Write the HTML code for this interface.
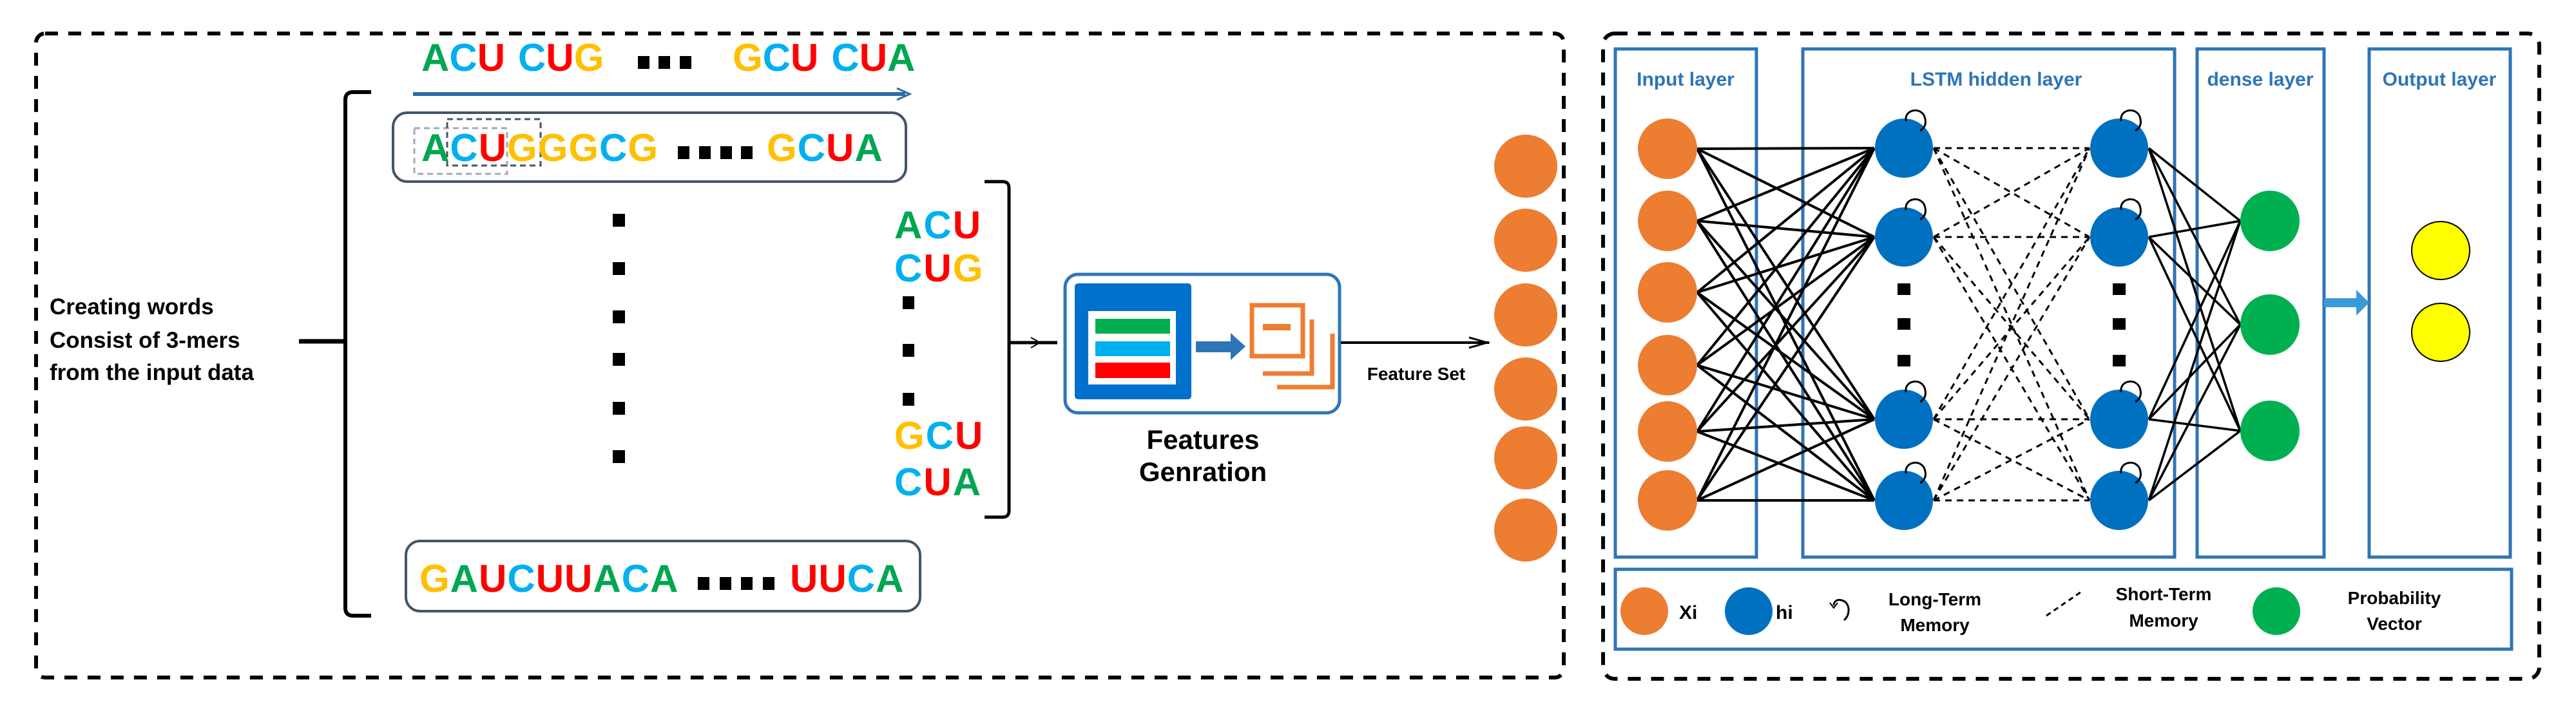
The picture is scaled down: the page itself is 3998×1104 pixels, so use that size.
<!DOCTYPE html>
<html><head><meta charset="utf-8"><style>
html,body{margin:0;padding:0;background:#fff;}
svg{display:block;}
text{font-family:"Liberation Sans",Arial,sans-serif;font-weight:bold;}
</style></head><body>
<svg width="3998" height="1104" viewBox="0 0 3998 1104" xmlns="http://www.w3.org/2000/svg">
<defs>
<marker id="ah" markerWidth="10" markerHeight="10" refX="9" refY="5" orient="auto" markerUnits="userSpaceOnUse"><path d="M0,0 L10,5 L0,10" fill="none" stroke="#000" stroke-width="2"/></marker>
</defs>
<!-- panels -->
<rect x="56" y="52" width="2371" height="1000" rx="14" fill="none" stroke="#000" stroke-width="6" stroke-dasharray="20,16"/>
<rect x="2488" y="52" width="1453" height="1002" rx="18" fill="none" stroke="#000" stroke-width="6" stroke-dasharray="20,16"/>

<!-- top sequence -->
<g font-size="60">
<text x="654" y="110"><tspan fill="#00a651">A</tspan><tspan fill="#00b0f0">C</tspan><tspan fill="#ff0000">U</tspan><tspan dx="20" fill="#00b0f0">C</tspan><tspan fill="#ff0000">U</tspan><tspan fill="#ffc000">G</tspan></text>
<text x="1137" y="110"><tspan fill="#ffc000">G</tspan><tspan fill="#00b0f0">C</tspan><tspan fill="#ff0000">U</tspan><tspan dx="20" fill="#00b0f0">C</tspan><tspan fill="#ff0000">U</tspan><tspan fill="#00a651">A</tspan></text>
</g>
<g fill="#000"><rect x="990" y="87" width="18" height="20"/><rect x="1022" y="87" width="18" height="20"/><rect x="1055" y="87" width="18" height="20"/></g>
<line x1="641" y1="146" x2="1405" y2="146" stroke="#2e6da4" stroke-width="6"/>
<path d="M1392,137 L1412,146 L1392,155" fill="none" stroke="#2e6da4" stroke-width="3"/>

<!-- bracket -->
<path d="M576,143 L548,143 Q536,143 536,155 L536,944 Q536,956 548,956 L576,956" fill="none" stroke="#000" stroke-width="6"/>
<line x1="464" y1="530" x2="536" y2="530" stroke="#000" stroke-width="7"/>
<text x="77" y="488" font-size="35" fill="#000">Creating words</text>
<text x="77" y="540" font-size="35" fill="#000">Consist of 3-mers</text>
<text x="77" y="590" font-size="35" fill="#000">from the input data</text>

<!-- box 1 -->
<rect x="610" y="175" width="796" height="107" rx="22" fill="none" stroke="#44546a" stroke-width="4"/>
<rect x="643" y="199" width="144" height="71" fill="none" stroke="#a0a8b8" stroke-width="3" stroke-dasharray="9,6"/>
<rect x="694" y="185" width="145" height="72" fill="none" stroke="#44546a" stroke-width="3" stroke-dasharray="9,6"/>
<text x="654" y="250" font-size="60" letter-spacing="1"><tspan fill="#00a651">A</tspan><tspan fill="#00b0f0">C</tspan><tspan fill="#ff0000">U</tspan><tspan fill="#ffc000">GGG</tspan><tspan fill="#00b0f0">C</tspan><tspan fill="#ffc000">G</tspan></text>
<g fill="#000"><rect x="1052" y="227" width="18" height="20"/><rect x="1085" y="227" width="18" height="20"/><rect x="1118" y="227" width="18" height="20"/><rect x="1150" y="227" width="18" height="20"/></g>
<text x="1190" y="250" font-size="60" letter-spacing="1"><tspan fill="#ffc000">G</tspan><tspan fill="#00b0f0">C</tspan><tspan fill="#ff0000">U</tspan><tspan fill="#00a651">A</tspan></text>

<!-- vertical dots -->
<g fill="#000"><rect x="951" y="332" width="19" height="20"/><rect x="951" y="407" width="19" height="20"/><rect x="951" y="482" width="19" height="20"/><rect x="951" y="548" width="19" height="20"/><rect x="951" y="624" width="19" height="20"/><rect x="951" y="699" width="19" height="20"/></g>

<!-- box 2 -->
<rect x="630" y="840" width="798" height="109" rx="22" fill="none" stroke="#44546a" stroke-width="4"/>
<text x="651" y="919" font-size="60" letter-spacing="1"><tspan fill="#ffc000">G</tspan><tspan fill="#00a651">A</tspan><tspan fill="#ff0000">U</tspan><tspan fill="#00b0f0">C</tspan><tspan fill="#ff0000">UU</tspan><tspan fill="#00a651">A</tspan><tspan fill="#00b0f0">C</tspan><tspan fill="#00a651">A</tspan></text>
<g fill="#000"><rect x="1083" y="896" width="18" height="20"/><rect x="1117" y="896" width="18" height="20"/><rect x="1150" y="896" width="18" height="20"/><rect x="1184" y="896" width="18" height="20"/></g>
<text x="1226" y="919" font-size="60" letter-spacing="1"><tspan fill="#ff0000">UU</tspan><tspan fill="#00b0f0">C</tspan><tspan fill="#00a651">A</tspan></text>

<!-- kmers column -->
<g font-size="60" letter-spacing="2">
<text x="1388" y="370"><tspan fill="#00a651">A</tspan><tspan fill="#00b0f0">C</tspan><tspan fill="#ff0000">U</tspan></text>
<text x="1388" y="437"><tspan fill="#00b0f0">C</tspan><tspan fill="#ff0000">U</tspan><tspan fill="#ffc000">G</tspan></text>
<text x="1388" y="697"><tspan fill="#ffc000">G</tspan><tspan fill="#00b0f0">C</tspan><tspan fill="#ff0000">U</tspan></text>
<text x="1388" y="769"><tspan fill="#00b0f0">C</tspan><tspan fill="#ff0000">U</tspan><tspan fill="#00a651">A</tspan></text>
</g>
<g fill="#000"><rect x="1401" y="460" width="18" height="20"/><rect x="1401" y="534" width="18" height="20"/><rect x="1401" y="610" width="18" height="20"/></g>
<path d="M1528,282 L1556,282 Q1566,282 1566,292 L1566,793 Q1566,803 1556,803 L1528,803" fill="none" stroke="#000" stroke-width="5"/>
<line x1="1566" y1="532" x2="1641" y2="532" stroke="#000" stroke-width="5"/>
<path d="M1600,524 L1614,532 L1600,540" fill="none" stroke="#000" stroke-width="2"/>

<!-- features box -->
<rect x="1653" y="426" width="426" height="215" rx="20" fill="none" stroke="#2e75b6" stroke-width="5"/>
<rect x="1668" y="440" width="181" height="180" rx="5" fill="#0070cd"/>
<rect x="1689" y="483" width="136" height="114" fill="#fff"/>
<rect x="1700" y="495" width="116" height="23" fill="#00b050"/>
<rect x="1700" y="530" width="116" height="23" fill="#00b0f0"/>
<rect x="1700" y="563" width="116" height="24" fill="#ff0000"/>
<rect x="1856" y="530" width="56" height="17" fill="#2e75b6"/>
<path d="M1910,517 L1933,538 L1910,559 Z" fill="#2e75b6"/>
<g fill="none" stroke="#ed7d31" stroke-width="7">
<rect x="1943" y="474" width="79" height="79"/>
<path d="M2036,496 L2036,580 L1960,580"/>
<path d="M2068,518 L2068,601 L1982,601"/>
</g>
<rect x="1960" y="503" width="43" height="10" fill="#ed7d31"/>
<text x="1867" y="697" font-size="42" text-anchor="middle" fill="#000">Features</text>
<text x="1867" y="747" font-size="42" text-anchor="middle" fill="#000">Genration</text>
<line x1="2081" y1="532" x2="2311" y2="532" stroke="#000" stroke-width="4"/>
<path d="M2280,524 L2308,532 L2280,540" fill="none" stroke="#000" stroke-width="3"/>
<text x="2198" y="590" font-size="28" text-anchor="middle" fill="#000">Feature Set</text>
<g fill="#ed7d31">
<circle cx="2368" cy="258" r="49"/><circle cx="2368" cy="373" r="49"/><circle cx="2368" cy="489" r="49"/><circle cx="2368" cy="604" r="49"/><circle cx="2368" cy="711" r="49"/><circle cx="2368" cy="823" r="49"/>
</g>

<!-- right panel layers -->
<g fill="none" stroke="#2e75b6" stroke-width="5">
<rect x="2507" y="76" width="219" height="789"/>
<rect x="2798" y="76" width="577" height="789"/>
<rect x="3410" y="76" width="197" height="789"/>
<rect x="3677" y="76" width="219" height="789"/>
<rect x="2507" y="884" width="1391" height="124"/>
</g>
<g font-size="30" fill="#2e75b6" text-anchor="middle">
<text x="2616" y="133">Input layer</text>
<text x="3098" y="133">LSTM hidden layer</text>
<text x="3508" y="133">dense layer</text>
<text x="3786" y="133">Output layer</text>
</g>

<!-- connections input -> lstm1 -->
<g stroke="#000" stroke-width="4">
<path d="M2634,231L2909,230M2634,231L2909,368M2634,231L2909,651M2634,231L2909,777
M2634,343L2909,230M2634,343L2909,368M2634,343L2909,651M2634,343L2909,777
M2634,454L2909,230M2634,454L2909,368M2634,454L2909,651M2634,454L2909,777
M2634,567L2909,230M2634,567L2909,368M2634,567L2909,651M2634,567L2909,777
M2634,670L2909,230M2634,670L2909,368M2634,670L2909,651M2634,670L2909,777
M2634,777L2909,230M2634,777L2909,368M2634,777L2909,651M2634,777L2909,777"/>
</g>
<g stroke="#000" stroke-width="3" stroke-dasharray="10,8">
<path d="M3001,230L3243,230M3001,230L3243,368M3001,230L3243,651M3001,230L3243,777
M3001,368L3243,230M3001,368L3243,368M3001,368L3243,651M3001,368L3243,777
M3001,651L3243,230M3001,651L3243,368M3001,651L3243,651M3001,651L3243,777
M3001,777L3243,230M3001,777L3243,368M3001,777L3243,651M3001,777L3243,777"/>
</g>
<g stroke="#000" stroke-width="3.5">
<path d="M3335,230L3477,343M3335,230L3477,504M3335,230L3477,669
M3335,368L3477,343M3335,368L3477,504M3335,368L3477,669
M3335,651L3477,343M3335,651L3477,504M3335,651L3477,669
M3335,777L3477,343M3335,777L3477,504M3335,777L3477,669"/>
</g>
<g fill="#ed7d31">
<ellipse cx="2588" cy="231" rx="46" ry="47"/><ellipse cx="2588" cy="343" rx="46" ry="47"/><ellipse cx="2588" cy="454" rx="46" ry="47"/><ellipse cx="2588" cy="567" rx="46" ry="47"/><ellipse cx="2588" cy="670" rx="46" ry="47"/><ellipse cx="2588" cy="777" rx="46" ry="47"/>
</g>
<g fill="#0070c0">
<ellipse cx="2955" cy="230" rx="45" ry="46"/><ellipse cx="2955" cy="368" rx="45" ry="46"/><ellipse cx="2955" cy="651" rx="45" ry="46"/><ellipse cx="2955" cy="777" rx="45" ry="46"/>
<ellipse cx="3289" cy="230" rx="45" ry="46"/><ellipse cx="3289" cy="368" rx="45" ry="46"/><ellipse cx="3289" cy="651" rx="45" ry="46"/><ellipse cx="3289" cy="777" rx="45" ry="46"/>
</g>
<!-- recurrent loops -->
<g fill="none" stroke="#000" stroke-width="3">
<path d="M2958,188 C2955,168 2985,165 2988,185 C2990,195 2985,200 2980,203"/>
<path d="M2958,326 C2955,306 2985,303 2988,323 C2990,333 2985,338 2980,341"/>
<path d="M2958,609 C2955,589 2985,586 2988,606 C2990,616 2985,621 2980,624"/>
<path d="M2958,735 C2955,715 2985,712 2988,732 C2990,742 2985,747 2980,750"/>
<path d="M3292,188 C3289,168 3319,165 3322,185 C3324,195 3319,200 3314,203"/>
<path d="M3292,326 C3289,306 3319,303 3322,323 C3324,333 3319,338 3314,341"/>
<path d="M3292,609 C3289,589 3319,586 3322,606 C3324,616 3319,621 3314,624"/>
<path d="M3292,735 C3289,715 3319,712 3322,732 C3324,742 3319,747 3314,750"/>
</g>
<g fill="#000">
<rect x="2945" y="440" width="20" height="18"/><rect x="2945" y="494" width="20" height="18"/><rect x="2945" y="551" width="20" height="18"/>
<rect x="3279" y="440" width="20" height="18"/><rect x="3279" y="494" width="20" height="18"/><rect x="3279" y="551" width="20" height="18"/>
</g>
<g fill="#00b050">
<ellipse cx="3523" cy="343" rx="46" ry="47"/><ellipse cx="3523" cy="504" rx="46" ry="47"/><ellipse cx="3523" cy="669" rx="46" ry="47"/>
</g>
<rect x="3607" y="463" width="52" height="14" fill="#3a9ad9"/>
<path d="M3657,450 L3677,470 L3657,490 Z" fill="#3a9ad9"/>
<g fill="#ffff00" stroke="#000" stroke-width="2">
<ellipse cx="3788" cy="389" rx="45" ry="45"/><ellipse cx="3788" cy="516" rx="45" ry="45"/>
</g>

<!-- legend -->
<ellipse cx="2552" cy="949" rx="37" ry="37" fill="#ed7d31"/>
<text x="2606" y="961" font-size="30" fill="#000">Xi</text>
<ellipse cx="2714" cy="949" rx="37" ry="37" fill="#0070c0"/>
<text x="2756" y="961" font-size="30" fill="#000">hi</text>
<path d="M2862,963 C2872,955 2872,935 2858,932 C2850,930 2846,935 2846,940" fill="none" stroke="#000" stroke-width="3"/>
<path d="M2840,936 L2846,944 L2852,936" fill="none" stroke="#000" stroke-width="2"/>
<g font-size="28" fill="#000" text-anchor="middle">
<text x="3003" y="940">Long-Term</text><text x="3003" y="980">Memory</text>
<text x="3358" y="932">Short-Term</text><text x="3358" y="973">Memory</text>
<text x="3716" y="938">Probability</text><text x="3716" y="978">Vector</text>
</g>
<line x1="3176" y1="956" x2="3230" y2="919" stroke="#000" stroke-width="3" stroke-dasharray="8,6"/>
<ellipse cx="3533" cy="949" rx="37" ry="37" fill="#00b050"/>
</svg>
</body></html>
